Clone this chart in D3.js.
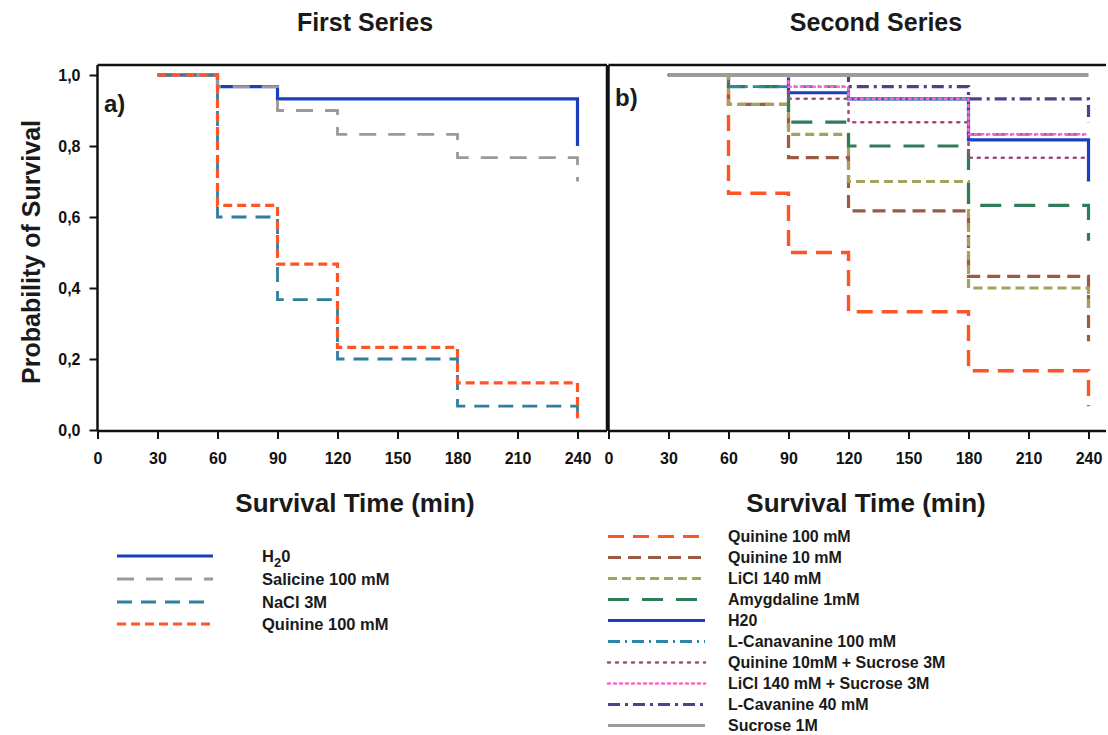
<!DOCTYPE html>
<html><head><meta charset="utf-8">
<script src="https://cdn.jsdelivr.net/npm/d3@7"></script>
<style>
html,body{margin:0;padding:0;background:#fff;}
svg{display:block;font-family:"Liberation Sans",Arial,sans-serif;}
</style></head>
<body><svg id="c" width="1108" height="735"></svg>
<script>
// ---- data ----
const xTicks = [0, 30, 60, 90, 120, 150, 180, 210, 240];
const yTicks = [0, 0.2, 0.4, 0.6, 0.8, 1.0];

const seriesA = ["H20", "Salicine 100 mM", "NaCl 3M", "Quinine 100 mM"];
const timesA = [
  [30, 60, 90, 240],
  [30, 60, 90, 120, 180, 240],
  [30, 60, 90, 120, 180, 240],
  [30, 60, 90, 120, 180, 240]
];
const valuesA = [
  [1, 0.967, 0.933, 0.80],
  [1, 0.967, 0.90, 0.833, 0.767, 0.70],
  [1, 0.60, 0.367, 0.20, 0.067, 0.033],
  [1, 0.633, 0.467, 0.233, 0.133, 0.033]
];

const seriesB = ["Quinine 100 mM", "Quinine 10 mM", "LiCl 140 mM", "Amygdaline 1mM", "H20",
  "L-Canavanine 100 mM", "Quinine 10mM + Sucrose 3M", "LiCl 140 mM + Sucrose 3M", "L-Cavanine 40 mM", "Sucrose 1M"];
const timesB = [
  [30, 60, 90, 120, 180, 240],
  [30, 60, 90, 120, 180, 240],
  [30, 60, 90, 120, 180, 240],
  [30, 60, 90, 120, 180, 240],
  [30, 90, 120, 180, 240],
  [30, 60, 120, 180, 240],
  [30, 90, 120, 180, 240],
  [30, 90, 120, 180, 240],
  [30, 120, 180, 240],
  [30, 240]
];
const valuesB = [
  [1, 0.667, 0.50, 0.333, 0.167, 0.067],
  [1, 0.917, 0.767, 0.617, 0.433, 0.25],
  [1, 0.917, 0.833, 0.70, 0.40, 0.333],
  [1, 0.967, 0.867, 0.80, 0.633, 0.533],
  [1, 0.95, 0.933, 0.817, 0.70],
  [1, 0.967, 0.933, 0.833, 0.833],
  [1, 0.933, 0.867, 0.767, 0.767],
  [1, 0.967, 0.933, 0.833, 0.833],
  [1, 0.967, 0.933, 0.867],
  [1, 1]
];

// ---- styles ----
const styleA = [
  {c: "#1c3fbe", w: 3.2, d: null},
  {c: "#9a9a9a", w: 2.8, d: "17,12"},
  {c: "#2e7f9f", w: 2.8, d: "15,9"},
  {c: "#ff5526", w: 3.2, d: "9,5"}
];
const styleB = [
  {c: "#ff5526", w: 3.4, d: "16,9"},
  {c: "#9b5a44", w: 3.2, d: "13,7"},
  {c: "#a5a25c", w: 3.2, d: "9,5"},
  {c: "#2f7d58", w: 3.2, d: "21,13"},
  {c: "#1c3fbe", w: 3.2, d: null},
  {c: "#2e86a6", w: 2.8, d: "12,5,2,5"},
  {c: "#a64a7e", w: 2.6, d: "2,6", cap: "round"},
  {c: "#ff66cc", w: 2.6, d: "2,4", cap: "round"},
  {c: "#45458a", w: 3.2, d: "12,5,3,5"},
  {c: "#9c9c9c", w: 3.8, d: null}
];

const svg = d3.select("#c");
const y = d3.scaleLinear().domain([0, 1]).range([430, 75]);
const xa = d3.scaleLinear().domain([0, 240]).range([97.5, 577.5]);
const xb = d3.scaleLinear().domain([0, 240]).range([608.5, 1088.5]);
const yTop = 65;
const FONT = "'Liberation Sans',Arial,sans-serif";

function frame(x, x0, x1, right) {
  const g = svg.append("g");
  g.append("line").attr("x1", x0).attr("x2", x1).attr("y1", yTop).attr("y2", yTop)
    .attr("stroke", "#111").attr("stroke-width", 2.5);
  g.append("line").attr("x1", x0).attr("x2", x0).attr("y1", yTop).attr("y2", 431)
    .attr("stroke", "#111").attr("stroke-width", 2.5);
  if (right) g.append("line").attr("x1", x1).attr("x2", x1).attr("y1", yTop).attr("y2", 431)
    .attr("stroke", "#111").attr("stroke-width", 2.5);
  const ax = g.append("g").attr("transform", "translate(0,431)")
    .call(d3.axisBottom(x).tickValues(xTicks).tickSize(8).tickPadding(14).tickFormat(d3.format("d")));
  ax.select(".domain").remove();
  ax.append("line").attr("x1", x0).attr("x2", x1).attr("y1", 0).attr("y2", 0)
    .attr("stroke", "#111").attr("stroke-width", 2.5);
  ax.selectAll(".tick line").attr("stroke", "#111").attr("stroke-width", 2);
  ax.selectAll(".tick text").attr("fill", "#111").style("font-size", "16px").style("font-weight", "bold")
    .style("font-family", FONT);
  return g;
}

frame(xa, 97.5, 607, true);
frame(xb, 608.5, 1106, false);

const ay = svg.append("g").attr("transform", "translate(97.5,0)")
  .call(d3.axisLeft(y).tickValues(yTicks).tickSize(8).tickPadding(9)
    .tickFormat(d => d3.format(".1f")(d).replace(".", ",")));
ay.select(".domain").remove();
ay.selectAll(".tick line").attr("stroke", "#111").attr("stroke-width", 2);
ay.selectAll(".tick text").attr("fill", "#111").style("font-size", "16px").style("font-weight", "bold")
  .style("font-family", FONT);

function drawSeries(x, idx, times, values, styles) {
  const line = d3.line().x(d => x(d[0])).y(d => y(d[1])).curve(d3.curveStepAfter);
  idx.forEach(i => {
    const pts = times[i].map((tt, j) => [tt, values[i][j]]);
    const s = styles[i];
    svg.append("path").attr("d", line(pts)).attr("fill", "none")
      .attr("stroke", s.c).attr("stroke-width", s.w)
      .attr("stroke-dasharray", s.d).attr("stroke-linecap", s.cap || "butt");
  });
}
drawSeries(xa, [0, 1, 2, 3], timesA, valuesA, styleA);
drawSeries(xb, d3.range(seriesB.length), timesB, valuesB, styleB);

function txt(x0, y0, s, size, anchor) {
  return svg.append("text").attr("x", x0).attr("y", y0).attr("text-anchor", anchor || "start")
    .attr("fill", "#1a1a1a").style("font-size", size + "px").style("font-weight", "bold").text(s);
}
txt(365, 31, "First Series", 25, "middle");
txt(876, 31, "Second Series", 25, "middle");
txt(104, 112, "a)", 24, "start");
txt(615, 106, "b)", 24, "start");
txt(355, 512, "Survival Time (min)", 26, "middle");
txt(866, 512, "Survival Time (min)", 26, "middle");
svg.append("text").attr("transform", "translate(40,252) rotate(-90)").attr("text-anchor", "middle")
  .attr("fill", "#1a1a1a").style("font-size", "25px").style("font-weight", "bold").text("Probability of Survival");

const legAy = [556, 579, 602, 624];
seriesA.forEach((name, i) => {
  const s = styleA[i];
  svg.append("line").attr("x1", 117).attr("x2", 213).attr("y1", legAy[i]).attr("y2", legAy[i])
    .attr("stroke", s.c).attr("stroke-width", s.w).attr("stroke-dasharray", s.d);
  const t = txt(262, legAy[i] + 6, "", 16.5, "start");
  if (i === 0) {
    t.append("tspan").text("H");
    t.append("tspan").attr("dy", 5).style("font-size", "13px").text("2");
    t.append("tspan").attr("dy", -5).text("0");
  } else t.text(name);
});
const legBy0 = 536.5, legBdy = 21;
seriesB.forEach((name, i) => {
  const s = styleB[i];
  const yy = legBy0 + i * legBdy;
  svg.append("line").attr("x1", 608).attr("x2", 705).attr("y1", yy).attr("y2", yy)
    .attr("stroke", s.c).attr("stroke-width", Math.min(s.w, 3.2)).attr("stroke-dasharray", s.d)
    .attr("stroke-linecap", s.cap || "butt");
  txt(728, yy + 5.5, name, 16, "start");
});
</script></body></html>
